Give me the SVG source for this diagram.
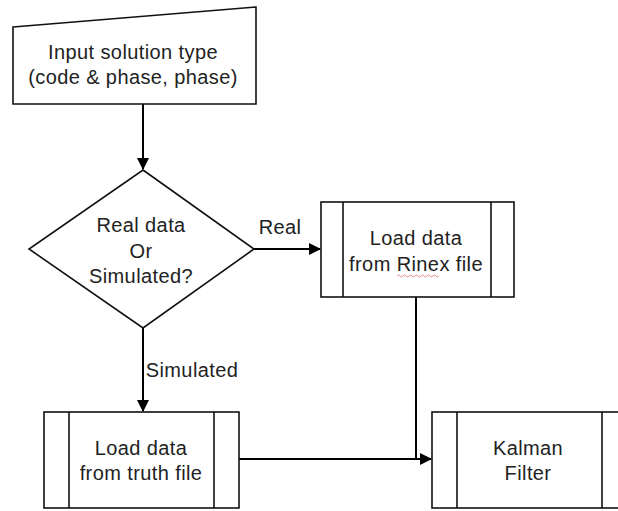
<svg xmlns="http://www.w3.org/2000/svg" width="618" height="511" viewBox="0 0 618 511">
<style>
.shape{fill:#fff;stroke:#111;stroke-width:1.6}
.div{stroke:#111;stroke-width:1.6}
.conn{fill:none;stroke:#000;stroke-width:2}
text{font-family:"Liberation Sans",Arial,sans-serif;font-size:20px;fill:#222;text-anchor:middle;letter-spacing:0.4px}
</style>
<defs>
<marker id="arr" markerWidth="12" markerHeight="12" refX="11" refY="6" orient="auto" markerUnits="userSpaceOnUse">
<path d="M0,0 L12,6 L0,12 Z" fill="#000"/>
</marker>
</defs>
<rect width="618" height="511" fill="#fff"/>
<g id="connectors">
<line class="conn" x1="143" y1="104" x2="143" y2="169" marker-end="url(#arr)"/>
<line class="conn" x1="254" y1="249" x2="320" y2="249" marker-end="url(#arr)"/>
<line class="conn" x1="143" y1="328" x2="143" y2="411" marker-end="url(#arr)"/>
<polyline class="conn" points="416,297 416,459"/>
<line class="conn" x1="239" y1="459" x2="431" y2="459" marker-end="url(#arr)"/>
<text x="280" y="234">Real</text>
<text x="192" y="377">Simulated</text>
</g>
<g id="input">
<path class="shape" d="M13,27 L256,7 L256,104 L13,104 Z"/>
<text x="133" y="59">Input solution type</text>
<text x="133" y="84">(code &amp; phase, phase)</text>
</g>
<g id="decision">
<path class="shape" d="M143,170 L254,249 L143,328 L29,249 Z"/>
<text x="141" y="232">Real data</text>
<text x="141" y="258">Or</text>
<text x="141" y="283">Simulated?</text>
</g>
<g id="rinex">
<rect class="shape" x="321" y="202" width="193" height="95"/>
<line class="div" x1="343" y1="202" x2="343" y2="297"/>
<line class="div" x1="491" y1="202" x2="491" y2="297"/>
<text x="416" y="245">Load data</text>
<text x="416" y="271">from Rinex file</text>
<path d="M397,276 q1.5,-2 3,0 t3,0 t3,0 t3,0 t3,0 t3,0 t3,0 t3,0 t3,0 t3,0 t3,0 t3,0 t3,0 t3,0" fill="none" stroke="#d33" stroke-width="0.8" opacity="0.7"/>
</g>
<g id="truth">
<rect class="shape" x="44" y="412" width="195" height="96"/>
<line class="div" x1="69" y1="412" x2="69" y2="508"/>
<line class="div" x1="214" y1="412" x2="214" y2="508"/>
<text x="141" y="455">Load data</text>
<text x="141" y="480">from truth file</text>
</g>
<g id="kalman">
<rect class="shape" x="432" y="412" width="210" height="96"/>
<line class="div" x1="457" y1="412" x2="457" y2="508"/>
<line class="div" x1="602" y1="412" x2="602" y2="508"/>
<text x="528" y="455">Kalman</text>
<text x="528" y="480">Filter</text>
</g>
</svg>
